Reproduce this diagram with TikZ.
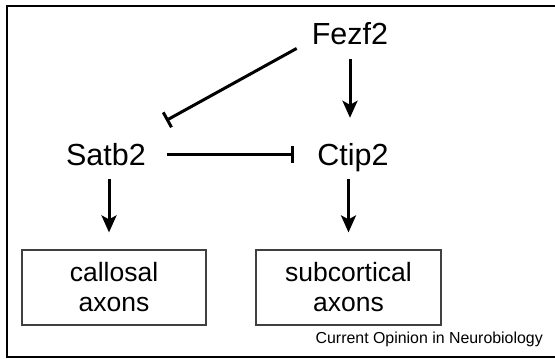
\documentclass[tikz,border=0pt]{standalone}
\usepackage{fontspec}
\setmainfont{Liberation Sans}
\usetikzlibrary{arrows.meta}
\begin{document}
\begin{tikzpicture}[x=1pt,y=1pt,
    gene/.style={font=\fontsize{30.5}{36}\selectfont, inner sep=0pt, text height=21.5pt, text depth=0pt},
    fate/.style={draw=black!75, line width=1.2pt, minimum width=184pt, minimum height=75pt, align=center, font=\fontsize{26.5}{30}\selectfont},
    act/.style={line width=3pt, -{Stealth[length=17pt,width=15pt,inset=4pt]}},
    inhib/.style={line width=3pt, -{Bar[width=17pt]}}]
            \useasboundingbox (0,0) rectangle (555,359);
            \draw[line width=2pt] (560,353) -- (6.5,353) -- (6.5,2) -- (560,2);
            \node[gene] (fezf2) at (350,325.5) {Fezf2};
            \node[gene] (satb2) at (106,204.5) {Satb2};
            \node[gene] (ctip2) at (353,204.5) {Ctip2};
            \node[fate] (callosal) at (114,71.5) {callosal\\axons};
            \node[fate, minimum width=185pt] (subcort) at (348.5,71.5) {subcortical\\axons};
            \node[font=\fontsize{15.9}{18}\selectfont, anchor=base east, inner sep=0pt] (credit) at (543,15) {Current Opinion in Neurobiology};
            \draw[act, shorten <=14.75pt, shorten >=25.75pt] (fezf2.south) -- (fezf2.south |- ctip2.north);
            \draw[inhib] ([xshift=-15pt,yshift=-4pt]fezf2.south west) -- ([xshift=20pt,yshift=23pt]satb2.north east);
            \draw[inhib, shorten <=21pt, shorten >=23pt] (satb2.east) -- (ctip2.west);
            \draw[act, shorten <=13.75pt, shorten >=17pt] ([xshift=3pt]satb2.south) -- ([xshift=3pt]satb2.south |- callosal.north);
            \draw[act, shorten <=13.75pt, shorten >=17pt] (subcort.north |- ctip2.south) -- (subcort.north);
        \end{tikzpicture}
\end{document}
